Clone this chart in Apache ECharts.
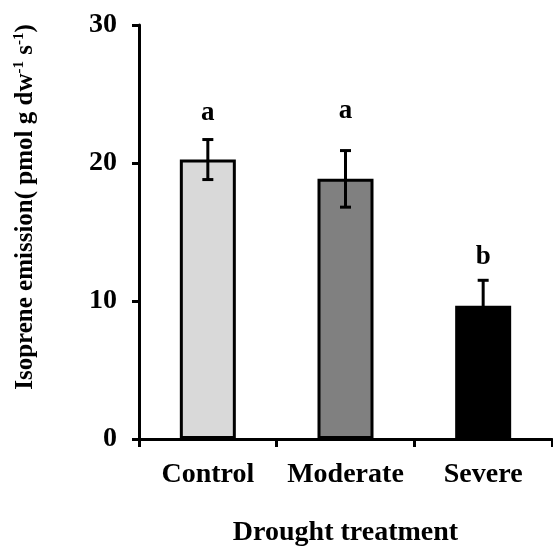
<!DOCTYPE html>
<html>
<head>
<meta charset="utf-8">
<script src="https://cdn.jsdelivr.net/npm/echarts@6/dist/echarts.min.js"></script>
<style>html,body{margin:0;padding:0;background:#fff;}#c{width:553px;height:547px;}</style>
</head>
<body>
<div id="c"></div>
<script>
var categories = ['Control', 'Moderate', 'Severe'];
var means = [20.25, 18.85, 9.65];
var errors = [1.45, 2.05, 1.85];
var letters = ['a', 'a', 'b'];
var letterY = [23.6, 23.8, 13.2];
var barColors = ['#d9d9d9', '#808080', '#000000'];
var yTicks = [0, 10, 20, 30];

var FONT = '"Liberation Serif", "Times New Roman", serif';
var chart = echarts.init(document.getElementById('c'), null, {renderer: 'canvas'});

var errData = categories.map(function (c, i) { return [i, means[i], errors[i], letterY[i]]; });

chart.setOption({
  animation: false,
  backgroundColor: '#ffffff',
  grid: {left: 139, right: 1, top: 25, bottom: 108, containLabel: false, outerBoundsMode: 'none'},
  xAxis: {
    type: 'category',
    data: categories,
    boundaryGap: true,
    axisLine: {lineStyle: {color: '#000', width: 3}},
    axisTick: {show: true, length: 8, alignWithLabel: false, interval: 0, lineStyle: {color: '#000', width: 3}},
    axisLabel: {color: '#000', fontFamily: FONT, fontWeight: 'bold', fontSize: 28, margin: 22, interval: 0, hideOverlap: false},
    name: 'Drought treatment',
    nameLocation: 'middle',
    nameGap: 94,
    nameTextStyle: {color: '#000', fontFamily: FONT, fontWeight: 'bold', fontSize: 28, verticalAlign: 'middle'}
  },
  yAxis: {
    type: 'value',
    min: 0, max: 30, interval: 10,
    splitLine: {show: false},
    axisLine: {show: true, lineStyle: {color: '#000', width: 3}},
    axisTick: {show: true, length: 7, lineStyle: {color: '#000', width: 3}},
    axisLabel: {
      color: '#000', fontFamily: FONT, fontWeight: 'bold', fontSize: 28, margin: 22,
      formatter: function (v) { return yTicks.indexOf(v) >= 0 ? String(v) : ''; }
    },
    name: '{m|Isoprene emission( pmol g dw}{s|-1}{m| s}{s|-1}{m|)}',
    nameLocation: 'middle',
    nameGap: 113,
    nameRotate: 90,
    nameTextStyle: {
      color: '#000', fontFamily: FONT, fontWeight: 'bold', fontSize: 25,
      verticalAlign: 'middle',
      padding: [0, 0, 0, 50],
      rich: {
        m: {color: '#000', fontFamily: FONT, fontWeight: 'bold', fontSize: 25, lineHeight: 29},
        s: {color: '#000', fontFamily: FONT, fontWeight: 'bold', fontSize: 15, verticalAlign: 'top', lineHeight: 16}
      }
    }
  },
  series: [
    {
      type: 'bar',
      barWidth: 56,
      data: means.map(function (v, i) {
        return {value: v, itemStyle: {color: barColors[i]}};
      }),
      itemStyle: {borderColor: '#000', borderWidth: 3},
      z: 2
    },
    {
      type: 'custom',
      z: 5,
      data: errData,
      renderItem: function (params, api) {
        var x = api.value(0), m = api.value(1), e = api.value(2), ly = api.value(3);
        var top = api.coord([x, m + e]);
        var bot = api.coord([x, m - e]);
        var lp = api.coord([x, ly]);
        var cap = 5.5;
        var st = {stroke: '#000', lineWidth: 3};
        return {
          type: 'group',
          children: [
            {type: 'line', shape: {x1: top[0], y1: top[1], x2: bot[0], y2: bot[1]}, style: st},
            {type: 'line', shape: {x1: top[0] - cap, y1: top[1], x2: top[0] + cap, y2: top[1]}, style: st},
            {type: 'line', shape: {x1: bot[0] - cap, y1: bot[1], x2: bot[0] + cap, y2: bot[1]}, style: st},
            {type: 'text', x: lp[0], y: lp[1], style: {
              text: letters[params.dataIndex], fill: '#000', font: 'bold 27px ' + FONT,
              align: 'center', verticalAlign: 'middle'
            }}
          ]
        };
      }
    }
  ]
});
</script>
</body>
</html>
